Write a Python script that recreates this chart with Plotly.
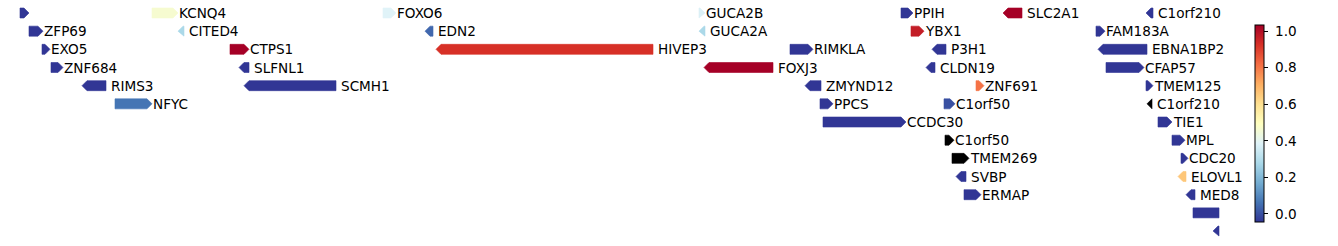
import math
import plotly.graph_objects as go
from plotly.colors import sample_colorscale, diverging

# ---- data (positions in kb along the region) ----
gene_names = ["", "KCNQ4", "FOXO6", "GUCA2B", "PPIH", "SLC2A1", "C1orf210",
              "ZFP69", "CITED4", "EDN2", "GUCA2A", "YBX1", "FAM183A",
              "EXO5", "CTPS1", "HIVEP3", "RIMKLA", "P3H1", "EBNA1BP2",
              "ZNF684", "SLFNL1", "FOXJ3", "CLDN19", "CFAP57",
              "RIMS3", "SCMH1", "ZMYND12", "ZNF691", "TMEM125",
              "NFYC", "PPCS", "C1orf50", "C1orf210",
              "CCDC30", "TIE1",
              "C1orf50", "MPL",
              "TMEM269", "CDC20",
              "SVBP", "ELOVL1",
              "ERMAP", "MED8",
              "",
              ""]
gene_rows = [0, 0, 0, 0, 0, 0, 0,
             1, 1, 1, 1, 1, 1,
             2, 2, 2, 2, 2, 2,
             3, 3, 3, 3, 3,
             4, 4, 4, 4, 4,
             5, 5, 5, 5,
             6, 6,
             7, 7,
             8, 8,
             9, 9,
             10, 10,
             11,
             12]
gene_starts = [20, 152, 383, 699, 901, 1003, 1146,
               29, 178, 425, 699, 911, 1096,
               42, 230, 436, 790, 932, 1098,
               51, 239, 704, 926, 1106,
               82, 244, 805, 976, 1146,
               115, 820, 944, 1147,
               823, 1158,
               945, 1172,
               952, 1181,
               956, 1178,
               964, 1186,
               1193,
               1213]
gene_ends = [29, 178, 396, 705, 913, 1022, 1153,
             43, 184, 433, 705, 924, 1105,
             50, 249, 653, 813, 946, 1147,
             63, 249, 773, 935, 1144,
             106, 336, 821, 984, 1153,
             152, 833, 955, 1152,
             906, 1172,
             954, 1185,
             969, 1188,
             966, 1186,
             981, 1195,
             1219,
             1219]
gene_strands = [1, 1, 1, 1, 1, -1, -1,
                1, -1, -1, -1, 1, 1,
                1, 1, -1, 1, -1, -1,
                1, -1, -1, -1, 1,
                -1, -1, -1, 1, 1,
                1, 1, 1, -1,
                1, 1,
                1, 1,
                1, 1,
                -1, -1,
                1, -1,
                0,
                -1]
nan = float("nan")
gene_scores = [-0.044, 0.462, 0.387, 0.376, -0.044, 1.033, -0.044,
               -0.044, 0.279, 0.042, 0.279, 0.968, -0.044,
               -0.044, 1.033, 0.925, -0.044, -0.044, -0.044,
               -0.044, -0.044, 1.033, -0.044, -0.044,
               -0.044, -0.044, -0.044, 0.807, -0.044,
               0.064, -0.044, 0.0, nan,
               -0.044, -0.044,
               nan, -0.044,
               nan, -0.044,
               -0.044, 0.656,
               -0.044, -0.044,
               -0.044,
               -0.044]
score_min, score_max = -0.044, 1.033
colorbar_ticks = [0.0, 0.2, 0.4, 0.6, 0.8, 1.0]
colorbar_ticktext = ["0.0", "0.2", "0.4", "0.6", "0.8", "1.0"]

# ---- styling ----
W, H = 1338, 246
FONT = "DejaVu Sans"
FSIZE = 13.6
colorscale = list(reversed(diverging.RdYlBu))
half_h = 0.275     # half box height in row units
head = 5.0         # arrow head length in kb

fig = go.Figure()

for name, row, s, e, strand, v in zip(gene_names, gene_rows, gene_starts,
                                      gene_ends, gene_strands, gene_scores):
    if v is None or (isinstance(v, float) and math.isnan(v)):
        col = "black"
    else:
        t = (v - score_min) / (score_max - score_min)
        t = min(max(t, 0.0), 1.0)
        col = sample_colorscale(colorscale, [t])[0]
    hl = min(head, e - s)
    y0, y1 = row - half_h, row + half_h
    if strand > 0:
        xs = [s, e - hl, e, e - hl, s, s]
        ys = [y0, y0, row, y1, y1, y0]
    elif strand < 0:
        xs = [e, s + hl, s, s + hl, e, e]
        ys = [y0, y0, row, y1, y1, y0]
    else:
        xs = [s, e, e, s, s]
        ys = [y0, y0, y1, y1, y0]
    fig.add_trace(go.Scatter(x=xs, y=ys, mode="lines", fill="toself",
                             fillcolor=col, line=dict(color=col, width=0.6),
                             showlegend=False, hoverinfo="skip"))
    if name:
        fig.add_annotation(x=e, y=row, text=name, showarrow=False,
                           xanchor="left", yanchor="middle",
                           xshift=(4 if strand < 0 else 0), borderpad=0,
                           font=dict(family=FONT, size=FSIZE, color="black"))

# colorbar carrier
fig.add_trace(go.Scatter(
    x=[gene_starts[0], gene_starts[0]], y=[0, 0], mode="markers",
    marker=dict(size=0.1, opacity=0, color=[score_min, score_max],
                cmin=score_min, cmax=score_max, colorscale=colorscale,
                showscale=True,
                colorbar=dict(
                    xref="container", yref="container",
                    x=1255 / W, xanchor="left",
                    y=(H - 222) / H, yanchor="bottom",
                    len=197, lenmode="pixels",
                    thickness=9, thicknessmode="pixels",
                    xpad=0, ypad=0,
                    outlinewidth=1, outlinecolor="black",
                    ticks="outside", ticklen=4, tickwidth=1, tickcolor="black",
                    tickmode="array", tickvals=colorbar_ticks,
                    ticktext=["&nbsp;" + t for t in colorbar_ticktext],
                    tickfont=dict(family=FONT, size=FSIZE, color="black"),
                )),
    showlegend=False, hoverinfo="skip"))

row_px = 18.17
y_top = -13 / row_px
y_bot = y_top + H / row_px

fig.update_layout(
    width=W, height=H,
    margin=dict(l=0, r=W - 1240, t=0, b=0),
    paper_bgcolor="white", plot_bgcolor="white",
    xaxis=dict(range=[0, 1240], visible=False, fixedrange=True),
    yaxis=dict(range=[y_bot, y_top], visible=False, fixedrange=True),
    font=dict(family=FONT),
)

fig.write_html("out.html", config={"displayModeBar": False})
